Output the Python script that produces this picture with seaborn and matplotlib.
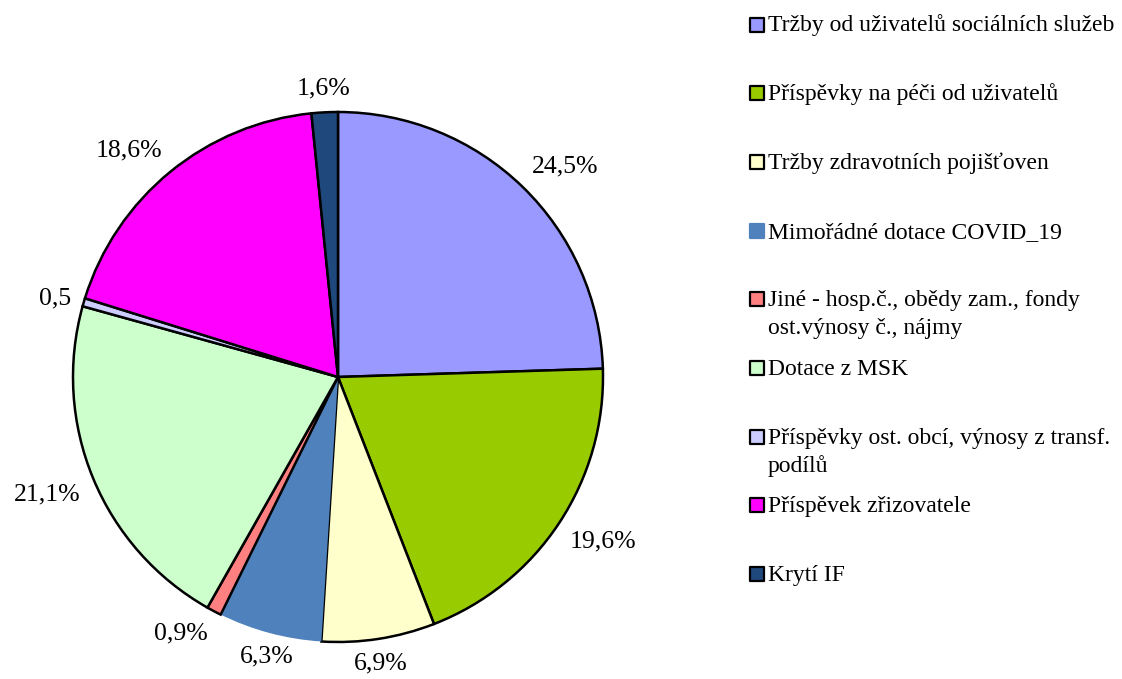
import numpy as np
import matplotlib
matplotlib.use("Agg")
import matplotlib.pyplot as plt
import seaborn as sns

# Struktura výnosů (podíl v %)
categories = [
    "Tržby od uživatelů sociálních služeb",
    "Příspěvky na péči od uživatelů",
    "Tržby zdravotních pojišťoven",
    "Mimořádné dotace COVID_19",
    "Jiné - hosp.č., obědy zam., fondy\nost.výnosy č., nájmy",
    "Dotace z MSK",
    "Příspěvky ost. obcí, výnosy z transf.\npodílů",
    "Příspěvek zřizovatele",
    "Krytí IF",
]
shares = [24.5, 19.6, 6.9, 6.3, 0.9, 21.1, 0.5, 18.6, 1.6]
value_labels = ["24,5%", "19,6%", "6,9%", "6,3%", "0,9%", "21,1%", "0,5", "18,6%", "1,6%"]
colors = ["#9999FF", "#99CC00", "#FFFFCC", "#4F81BD", "#FF8080",
          "#CCFFCC", "#CCCCFF", "#FF00FF", "#1F497D"]

sns.set_theme(style="white")
plt.rcParams['font.family'] = ['Liberation Serif', 'DejaVu Serif']

W, H = 1122, 679
fig = plt.figure(figsize=(W / 100, H / 100), dpi=100)

# koláč
ax = fig.add_axes([73 / W, 37 / H, 530 / W, 530 / H])
wedges, _ = ax.pie(shares, colors=colors, startangle=90, counterclock=False,
                   radius=1, wedgeprops=dict(edgecolor='black', linewidth=1.8))
wedges[3].set_linewidth(0)  # COVID výseč je bez obrysu
ax.set_xlim(-1, 1)
ax.set_ylim(-1, 1)
ax.set_aspect('equal')

# popisky vně koláče, zarovnané podle směru jako v Excelu
for w, lab in zip(wedges, value_labels):
    ang = np.deg2rad((w.theta1 + w.theta2) / 2)
    c, s = np.cos(ang), np.sin(ang)
    ha = 'left' if c > 0.3 else ('right' if c < -0.3 else 'center')
    va = 'bottom' if s > 0.3 else ('top' if s < -0.3 else 'center')
    ax.text(1.05 * c, 1.05 * s, lab, ha=ha, va=va, fontsize=18.5, color='black')

# legenda vpravo (ruční, první řádek zarovnán se čtverečkem)
lax = fig.add_axes([0, 0, 1, 1])
lax.set_xlim(0, W)
lax.set_ylim(H, 0)
lax.axis('off')
legend_top = 24.5
legend_step = 68.7
line_step = 28
for i, (cat, col) in enumerate(zip(categories, colors)):
    y = legend_top + i * legend_step
    edge = col if i == 3 else 'black'
    lax.scatter(757, y, marker='s', s=115, color=col, edgecolor=edge, linewidth=1.6)
    for j, line in enumerate(cat.split("\n")):
        lax.text(768, y + 7 + j * line_step, line, ha='left', va='baseline',
                 fontsize=17, color='black')

fig.savefig("out.png", dpi=100)
